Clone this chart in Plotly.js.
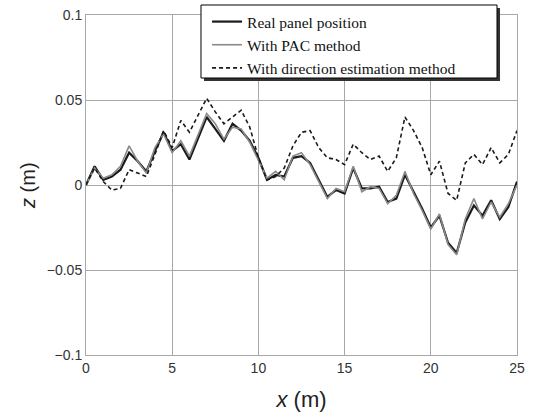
<!DOCTYPE html>
<html>
<head>
<meta charset="utf-8">
<script src="https://cdn.plot.ly/plotly-3.0.1.min.js"></script>
<style>html,body{margin:0;padding:0;background:#fff;}#chart{width:535px;height:417px;}</style>
</head>
<body>
<div id="chart"></div>
<script>
const xPos = [0,0.5,1,1.5,2,2.5,3,3.5,4,4.5,5,5.5,6,6.5,7,7.5,8,8.5,9,9.5,10,10.5,11,11.5,12,12.5,13,13.5,14,14.5,15,15.5,16,16.5,17,17.5,18,18.5,19,19.5,20,20.5,21,21.5,22,22.5,23,23.5,24,24.5,25];
const realZ = [0.000,0.011,0.003,0.005,0.009,0.019,0.014,0.008,0.020,0.031,0.020,0.024,0.015,0.028,0.040,0.033,0.026,0.036,0.032,0.026,0.016,0.003,0.006,0.005,0.016,0.017,0.013,0.003,-0.007,-0.003,-0.005,0.010,-0.002,-0.002,-0.001,-0.010,-0.008,0.006,-0.004,-0.014,-0.025,-0.018,-0.034,-0.040,-0.022,-0.012,-0.018,-0.009,-0.020,-0.013,0.002];
const pacZ = [0.000,0.010,0.004,0.006,0.011,0.023,0.014,0.007,0.022,0.030,0.019,0.026,0.017,0.030,0.042,0.036,0.027,0.034,0.033,0.025,0.014,0.004,0.008,0.003,0.017,0.019,0.012,0.002,-0.008,-0.002,-0.004,0.011,-0.004,-0.001,-0.002,-0.011,-0.006,0.008,-0.005,-0.015,-0.026,-0.017,-0.035,-0.041,-0.020,-0.008,-0.020,-0.010,-0.019,-0.011,0.000];
const dirZ = [0.000,0.010,0.002,-0.003,-0.002,0.009,0.007,0.005,0.018,0.032,0.022,0.038,0.031,0.041,0.051,0.043,0.036,0.040,0.044,0.034,0.016,0.003,0.005,0.010,0.023,0.031,0.032,0.022,0.016,0.015,0.012,0.024,0.019,0.015,0.017,0.008,0.016,0.040,0.032,0.022,0.006,0.014,-0.005,-0.009,0.013,0.018,0.012,0.022,0.013,0.018,0.032];
const names = ['Real panel position','With PAC method','With direction estimation method'];
const xTicks = [0,5,10,15,20,25];
const yTicks = [-0.1,-0.05,0,0.05,0.1];

const traces = [
  {x:xPos, y:realZ, name:names[0], mode:'lines', line:{color:'#1a1a1a', width:2.2}},
  {x:xPos, y:pacZ, name:names[1], mode:'lines', line:{color:'#8a8a8a', width:1.6}},
  {x:xPos, y:dirZ, name:names[2], mode:'lines', line:{color:'#1a1a1a', width:1.6, dash:'4px,3px'}}
];

const layout = {
  width:535, height:417,
  margin:{l:86, r:18, t:15, b:62, autoexpand:false},
  paper_bgcolor:'#fff', plot_bgcolor:'#fff',
  showlegend:true,
  legend:{xref:'container', yref:'container', x:0.387, y:0.988, xanchor:'left', yanchor:'top', bgcolor:'rgba(0,0,0,0)', borderwidth:0,
    font:{family:'Liberation Serif', size:15.5, color:'#111'}, tracegroupgap:0, itemwidth:30},
  shapes:[
    {type:'rect', xref:'paper', yref:'paper', x0:0.2738, x1:0.9606, y0:0.8059, y1:1.0206, fillcolor:'#333', line:{width:0}, layer:'above'},
    {type:'rect', xref:'paper', yref:'paper', x0:0.2668, x1:0.9536, y0:0.8147, y1:1.0294, fillcolor:'#fff', line:{color:'#000', width:1}, layer:'above'}
  ],
  annotations:[
    {text:'<i>z</i> (m)', xref:'paper', yref:'paper', x:-0.1346, y:0.5, xanchor:'center', yanchor:'middle', textangle:-90, showarrow:false,
     font:{family:'Liberation Sans', size:20, color:'#222'}}
  ],
  xaxis:{range:[0,25], tickvals:xTicks, ticktext:xTicks.map(String), showgrid:true, gridcolor:'#a8a8a8', gridwidth:1,
    showline:true, linecolor:'#a8a8a8', mirror:true, zeroline:false, ticks:'',
    tickfont:{family:'Liberation Sans', size:14, color:'#333'},
    title:{text:'<i>x</i> (m)', font:{family:'Liberation Sans', size:22, color:'#222'}, standoff:16}},
  yaxis:{range:[-0.1,0.1], tickvals:yTicks, ticktext:['\u22120.1','\u22120.05','0','0.05','0.1'], showgrid:true, gridcolor:'#a8a8a8', gridwidth:1,
    showline:true, linecolor:'#a8a8a8', mirror:true, zeroline:false, ticks:'',
    tickfont:{family:'Liberation Sans', size:14, color:'#333'}}
};
Plotly.newPlot('chart', traces, layout, {displayModeBar:false, staticPlot:true});
</script>
</body>
</html>
